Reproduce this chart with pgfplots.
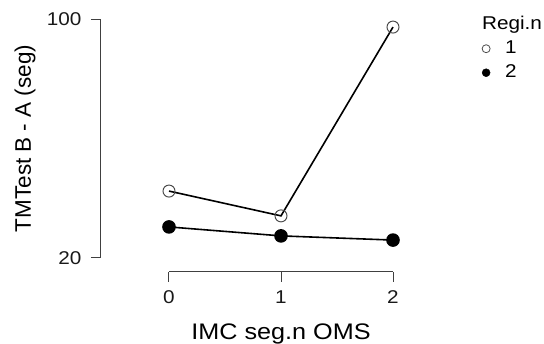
\documentclass[border=0pt]{standalone}
\usepackage{pgfplots}
\pgfplotsset{compat=1.18}
\usepackage{fontspec}
\setmainfont{Liberation Sans}[FakeStretch=1.12]
\newfontfamily\ylabfont{Liberation Sans}
\begin{document}
\begin{tikzpicture}[x=1pt,y=1pt]
\path[use as bounding box] (0,0) rectangle (544,344);
\begin{axis}[
  at={(169pt,86pt)}, anchor=south west,
  scale only axis, width=224pt, height=239pt,
  xmin=0, xmax=2, ymin=20, ymax=100,
  axis x line*=bottom, axis y line*=left,
  axis x line shift=14pt, axis y line shift=68pt,
  axis line style={-, line width=1pt, color=black!75},
  xtick={0,1,2}, ytick={20,100},
  tick align=outside, major tick length=10pt,
  tick style={line width=1pt, color=black!75},
  /pgf/number format/assume math mode=true,
  tick label style={font=\fontsize{18.5}{22}\selectfont, text=black!90},
  xticklabel style={yshift=-5pt},
  yticklabel style={xshift=-6pt},
  every axis x label/.style={at={(axis description cs:0.5,-0.343)}, anchor=base},
  every axis y label/.style={at={(axis description cs:-0.643,0.5)}, rotate=90, anchor=center},
  xlabel={\fontsize{22.5}{26}\selectfont IMC seg.n OMS},
  ylabel={\ylabfont\fontsize{22.5}{26}\selectfont TMTest B - A (seg)},
  clip=false,
  legend style={draw=none, fill=none, at={(axis description cs:1.397,1.0125)}, anchor=north west,
    font=\fontsize{18.5}{22}\selectfont, row sep=7pt, column sep=0pt, inner sep=0pt,
    nodes={inner sep=0pt, text height=13pt, text depth=4pt}},
  legend cell align=left,
  legend image code/.code={\path[draw=none] (0pt,0pt) -- (23pt,0pt); \draw[#1, only marks] plot coordinates {(4pt,0pt)};},
]
\addlegendimage{empty legend}\addlegendentry{\hspace{-23pt}Regi.n}
\addlegendimage{only marks, mark=o, mark size=4pt, mark options={draw=black!70, line width=0.8pt}}\addlegendentry{1}
\addlegendimage{only marks, mark=*, mark size=4pt, mark options={fill=black, draw=black}}\addlegendentry{2}
\addplot[forget plot, black, line width=1.6pt, mark=o, mark size=6pt, mark options={fill=white, draw=black!70, line width=1pt}] coordinates {(0,42.4) (1,34.1) (2,97.3)};
\addplot[forget plot, black, line width=1.6pt, mark=*, mark size=6pt, mark options={fill=black, draw=black}] coordinates {(0,30.4) (1,27.4) (2,26.0)};
\node[overlay, anchor=base, font=\bfseries\fontsize{24}{28}\selectfont, text=black!80] at (axis description cs:0.442,1.082) {AMS};
\end{axis}
\end{tikzpicture}
\end{document}
